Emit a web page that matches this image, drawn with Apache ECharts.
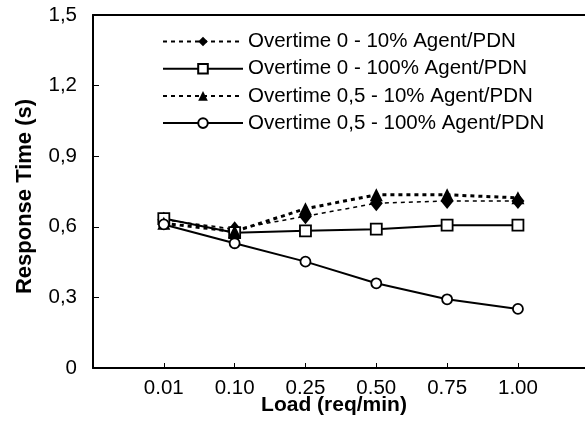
<!DOCTYPE html>
<html>
<head>
<meta charset="utf-8">
<script src="https://cdn.jsdelivr.net/npm/echarts@6/dist/echarts.min.js"></script>
<style>
  html, body { margin: 0; padding: 0; background: #fff; overflow: hidden; }
  #chart { width: 585px; height: 421px; }
</style>
</head>
<body>
<div id="chart"></div>
<script>
// Load levels (req/min), placed at positions 1..6 on the x axis
const loads = ['0.01', '0.10', '0.25', '0.50', '0.75', '1.00'];
const yTicks = [0, 0.3, 0.6, 0.9, 1.2, 1.5];

// Response time (s) per load level
const ot0_10  = [0.63, 0.59, 0.645, 0.70, 0.71, 0.71];
const ot0_100 = [0.635, 0.575, 0.583, 0.59, 0.607, 0.607];
const ot05_10 = [0.615, 0.58, 0.677, 0.736, 0.736, 0.723];
const ot05_100 = [0.61, 0.53, 0.452, 0.36, 0.292, 0.251];

const seriesNames = [
  'Overtime 0 - 10% Agent/PDN',
  'Overtime 0 - 100% Agent/PDN',
  'Overtime 0,5 - 10% Agent/PDN',
  'Overtime 0,5 - 100% Agent/PDN'
];

const FONT = 'Liberation Sans, Arial, Helvetica, sans-serif';
const X_MAX = 7.3;   // plot area runs past the right edge of the canvas
const pairs = arr => arr.map((v, i) => [i + 1, v]);

const chart = echarts.init(document.getElementById('chart'), null, { renderer: 'canvas' });

chart.setOption({
  animation: false,
  backgroundColor: '#fff',
  grid: {
    left: 93, top: 15, width: 517, height: 353,
    outerBoundsMode: 'none'
  },
  legend: {
    orient: 'vertical',
    left: 162, top: 31, padding: 0,
    itemWidth: 80, itemHeight: 12, itemGap: 6.2,
    textStyle: { fontFamily: FONT, fontSize: 20.5, color: '#000', lineHeight: 20 },
    data: seriesNames
  },
  xAxis: [
    {
      type: 'value', min: 0, max: X_MAX, interval: 1,
      name: 'Load (req/min)', nameLocation: 'middle', nameGap: 27,
      nameMoveOverlap: false,
      nameTextStyle: {
        fontFamily: FONT, fontSize: 21, fontWeight: 'bold', color: '#000',
        padding: [0, 35, 0, 0]
      },
      axisLine: { lineStyle: { color: '#000', width: 2 } },
      axisTick: { inside: true, length: 5, lineStyle: { color: '#000', width: 1 } },
      axisLabel: {
        fontFamily: FONT, fontSize: 20.5, color: '#000', margin: 10,
        formatter: v => (v >= 1 && v <= loads.length) ? loads[v - 1] : ''
      },
      splitLine: { show: false }
    },
    {
      // top frame line of the plot area
      type: 'value', position: 'top', min: 0, max: X_MAX,
      axisLine: { onZero: false, lineStyle: { color: '#000', width: 2 } },
      axisTick: { show: false }, axisLabel: { show: false }, splitLine: { show: false }
    }
  ],
  yAxis: {
    type: 'value', min: yTicks[0], max: yTicks[yTicks.length - 1], interval: 0.3,
    name: 'Response Time (s)', nameLocation: 'middle', nameGap: 57,
    nameMoveOverlap: false,
    nameTextStyle: {
      fontFamily: FONT, fontSize: 22, fontWeight: 'bold', color: '#000',
      padding: [0, 10, 0, 0]
    },
    axisLine: { show: true, lineStyle: { color: '#000', width: 2 } },
    axisTick: { inside: true, length: 6, lineStyle: { color: '#000', width: 1 } },
    axisLabel: {
      fontFamily: FONT, fontSize: 20.5, color: '#000', margin: 16,
      formatter: v => v === 0 ? '0' : v.toFixed(1).replace('.', ',')
    },
    splitLine: { show: false }
  },
  series: [
    {
      name: seriesNames[0], type: 'line', data: pairs(ot0_10),
      symbol: 'diamond', symbolSize: [13, 16],
      itemStyle: { color: '#000' },
      lineStyle: { color: '#000', width: 1.5, type: [4, 4] }
    },
    {
      name: seriesNames[1], type: 'line', data: pairs(ot0_100),
      symbol: 'rect', symbolSize: 11,
      itemStyle: { color: '#fff', borderColor: '#000', borderWidth: 1.8 },
      lineStyle: { color: '#000', width: 2 }
    },
    {
      name: seriesNames[2], type: 'line', data: pairs(ot05_10),
      symbol: 'triangle', symbolSize: 13,
      itemStyle: { color: '#000' },
      lineStyle: { color: '#000', width: 3, type: [4, 4] }
    },
    {
      name: seriesNames[3], type: 'line', data: pairs(ot05_100),
      symbol: 'circle', symbolSize: 10,
      itemStyle: { color: '#fff', borderColor: '#000', borderWidth: 1.8 },
      lineStyle: { color: '#000', width: 2 }
    }
  ]
});
</script>
</body>
</html>
